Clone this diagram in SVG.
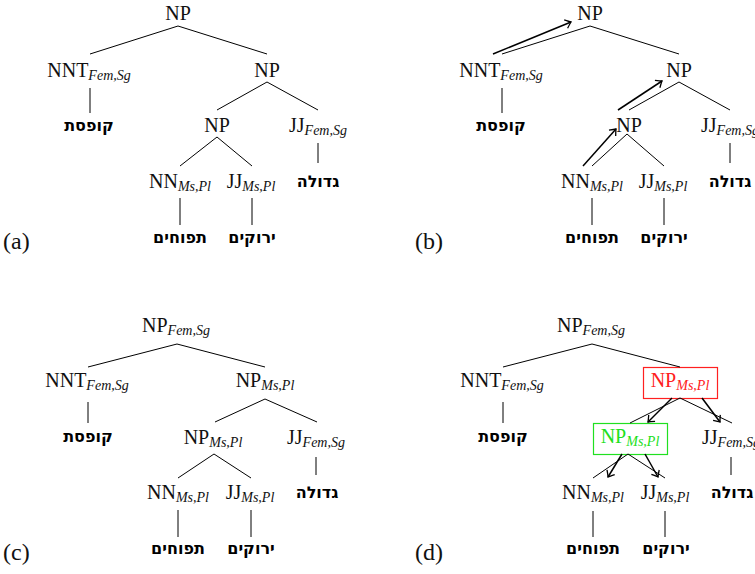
<svg xmlns="http://www.w3.org/2000/svg" width="755" height="574" viewBox="0 0 755 574">
<defs>
<style>
.l{font-family:"Liberation Serif","Times New Roman",serif;font-size:20px;fill:#111;text-anchor:middle}
.s{font-family:"Liberation Serif","Times New Roman",serif;font-size:14px;font-style:italic}
.h{font-family:"DejaVu Sans","Liberation Sans",sans-serif;font-size:16px;font-weight:bold;fill:#000;text-anchor:middle}
.p{font-family:"Liberation Serif","Times New Roman",serif;font-size:24px;fill:#111}
.e{stroke:#000;stroke-width:1;fill:none}
.a{stroke:#000;stroke-width:1.5;fill:none;marker-end:url(#ah)}
.red{fill:#ff2020}
.grn{fill:#20e020}
</style>
<marker id="ah" markerUnits="userSpaceOnUse" markerWidth="12" markerHeight="12" viewBox="-6 -6 12 12" refX="0" refY="0" orient="auto" overflow="visible">
<path d="M -5.5 -4.5 Q -1.5 -1 0 0 Q -1.5 1 -5.5 4.5" stroke="#000" stroke-width="1.3" fill="none"/>
</marker>
</defs>

<!-- Panel (a) -->
<g id="panel-a">
<g id="a-root"><text class="l" x="178" y="20">NP</text></g>
<g id="a-nnt"><text class="l" x="89" y="77">NNT<tspan class="s" dy="3">Fem,Sg</tspan></text></g>
<g id="a-np-r"><text class="l" x="267" y="77">NP</text></g>
<g id="a-w1"><text class="h" x="89" y="131">קופסת</text></g>
<g id="a-np-m"><text class="l" x="217" y="132">NP</text></g>
<g id="a-jjf"><text class="l" x="318" y="132">JJ<tspan class="s" dy="3">Fem,Sg</tspan></text></g>
<g id="a-w4"><text class="h" x="318" y="187">גדולה</text></g>
<g id="a-nn"><text class="l" x="180" y="188">NN<tspan class="s" dy="3">Ms,Pl</tspan></text></g>
<g id="a-jj"><text class="l" x="251" y="188">JJ<tspan class="s" dy="3">Ms,Pl</tspan></text></g>
<g id="a-w2"><text class="h" x="180" y="243">תפוחים</text></g>
<g id="a-w3"><text class="h" x="252" y="243">ירוקים</text></g>
<text class="p" x="3" y="249">(a)</text>
</g>

<!-- Panel (b) -->
<g id="panel-b">
<g id="b-root"><text class="l" x="590" y="20">NP</text></g>
<g id="b-nnt"><text class="l" x="501" y="77">NNT<tspan class="s" dy="3">Fem,Sg</tspan></text></g>
<g id="b-np-r"><text class="l" x="679" y="77">NP</text></g>
<g id="b-w1"><text class="h" x="501" y="131">קופסת</text></g>
<g id="b-np-m"><text class="l" x="629" y="132">NP</text></g>
<g id="b-jjf"><text class="l" x="730" y="132">JJ<tspan class="s" dy="3">Fem,Sg</tspan></text></g>
<g id="b-w4"><text class="h" x="730" y="187">גדולה</text></g>
<g id="b-nn"><text class="l" x="592" y="188">NN<tspan class="s" dy="3">Ms,Pl</tspan></text></g>
<g id="b-jj"><text class="l" x="663" y="188">JJ<tspan class="s" dy="3">Ms,Pl</tspan></text></g>
<g id="b-w2"><text class="h" x="592" y="243">תפוחים</text></g>
<g id="b-w3"><text class="h" x="664" y="243">ירוקים</text></g>
<text class="p" x="415" y="249">(b)</text>
</g>

<!-- Panel (c) -->
<g id="panel-c">
<g id="c-root"><text class="l" x="176" y="332">NP<tspan class="s" dy="3">Fem,Sg</tspan></text></g>
<g id="c-nnt"><text class="l" x="87" y="387">NNT<tspan class="s" dy="3">Fem,Sg</tspan></text></g>
<g id="c-np-r"><text class="l" x="265" y="387">NP<tspan class="s" dy="3">Ms,Pl</tspan></text></g>
<g id="c-w1"><text class="h" x="88" y="442">קופסת</text></g>
<g id="c-np-m"><text class="l" x="213" y="444">NP<tspan class="s" dy="3">Ms,Pl</tspan></text></g>
<g id="c-jjf"><text class="l" x="316" y="444">JJ<tspan class="s" dy="3">Fem,Sg</tspan></text></g>
<g id="c-w4"><text class="h" x="317" y="498">גדולה</text></g>
<g id="c-nn"><text class="l" x="178" y="499">NN<tspan class="s" dy="3">Ms,Pl</tspan></text></g>
<g id="c-jj"><text class="l" x="250" y="499">JJ<tspan class="s" dy="3">Ms,Pl</tspan></text></g>
<g id="c-w2"><text class="h" x="178" y="554">תפוחים</text></g>
<g id="c-w3"><text class="h" x="251" y="554">ירוקים</text></g>
<text class="p" x="3" y="560">(c)</text>
</g>

<!-- Panel (d) -->
<g id="panel-d">
<g id="d-root"><text class="l" x="591" y="332">NP<tspan class="s" dy="3">Fem,Sg</tspan></text></g>
<g id="d-nnt"><text class="l" x="502" y="387">NNT<tspan class="s" dy="3">Fem,Sg</tspan></text></g>
<g id="d-np-r"><rect x="643.5" y="367.5" width="74" height="31" fill="none" stroke="#ff2020" stroke-width="1.2"/><text class="l red" x="680" y="387">NP<tspan class="s" dy="3">Ms,Pl</tspan></text></g>
<g id="d-w1"><text class="h" x="503" y="442">קופסת</text></g>
<g id="d-np-m"><rect x="593.5" y="423.5" width="74" height="31" fill="none" stroke="#20e020" stroke-width="1.2"/><text class="l grn" x="630" y="443">NP<tspan class="s" dy="3">Ms,Pl</tspan></text></g>
<g id="d-jjf"><text class="l" x="731" y="444">JJ<tspan class="s" dy="3">Fem,Sg</tspan></text></g>
<g id="d-w4"><text class="h" x="732" y="498">גדולה</text></g>
<g id="d-nn"><text class="l" x="593" y="499">NN<tspan class="s" dy="3">Ms,Pl</tspan></text></g>
<g id="d-jj"><text class="l" x="665" y="499">JJ<tspan class="s" dy="3">Ms,Pl</tspan></text></g>
<g id="d-w2"><text class="h" x="593" y="554">תפוחים</text></g>
<g id="d-w3"><text class="h" x="666" y="554">ירוקים</text></g>
<text class="p" x="415" y="560">(d)</text>
</g>

<g id="connectors">
<!-- a -->
<path class="e" d="M178 26 L90 54 M178 26 L267 54 M90 88 L90 113 M267 82 L217 110 M267 82 L318 110 M318 143 L318 163 M217 137 L180 166 M217 137 L252 166 M180 198 L180 225 M252 198 L252 225"/>
<!-- b -->
<path class="e" d="M590 26 L502 54 M590 26 L679 54 M502 88 L502 113 M679 82 L629 110 M679 82 L730 110 M730 143 L730 163 M627 134 L592 166 M627 134 L664 166 M592 198 L592 225 M664 198 L664 225"/>
<line class="a" x1="493" y1="54" x2="571" y2="22"/>
<line class="a" x1="618" y1="110" x2="662" y2="81"/>
<line class="a" x1="583" y1="166" x2="616" y2="129"/>
<!-- c -->
<path class="e" d="M177 344 L88 367 M177 344 L265 367 M88 402 L88 423 M265 399 L215 422 M265 399 L317 422 M316 457 L316 475 M214 454 L178 478 M214 454 L251 478 M178 510 L178 537 M251 510 L251 537"/>
<!-- d -->
<path class="e" d="M592 344 L503 367 M592 344 L680 367 M503 402 L503 423 M680 398 L630 423 M680 398 L732 423 M731 457 L731 475 M628 454 L593 478 M628 454 L665 478 M593 511 L593 537 M665 511 L665 537"/>
<line class="a" x1="672" y1="398" x2="648" y2="422"/>
<line class="a" x1="702" y1="398" x2="720" y2="422"/>
<line class="a" x1="622" y1="454" x2="608" y2="477"/>
<line class="a" x1="645" y1="454" x2="658" y2="477"/>
</g>
</svg>
